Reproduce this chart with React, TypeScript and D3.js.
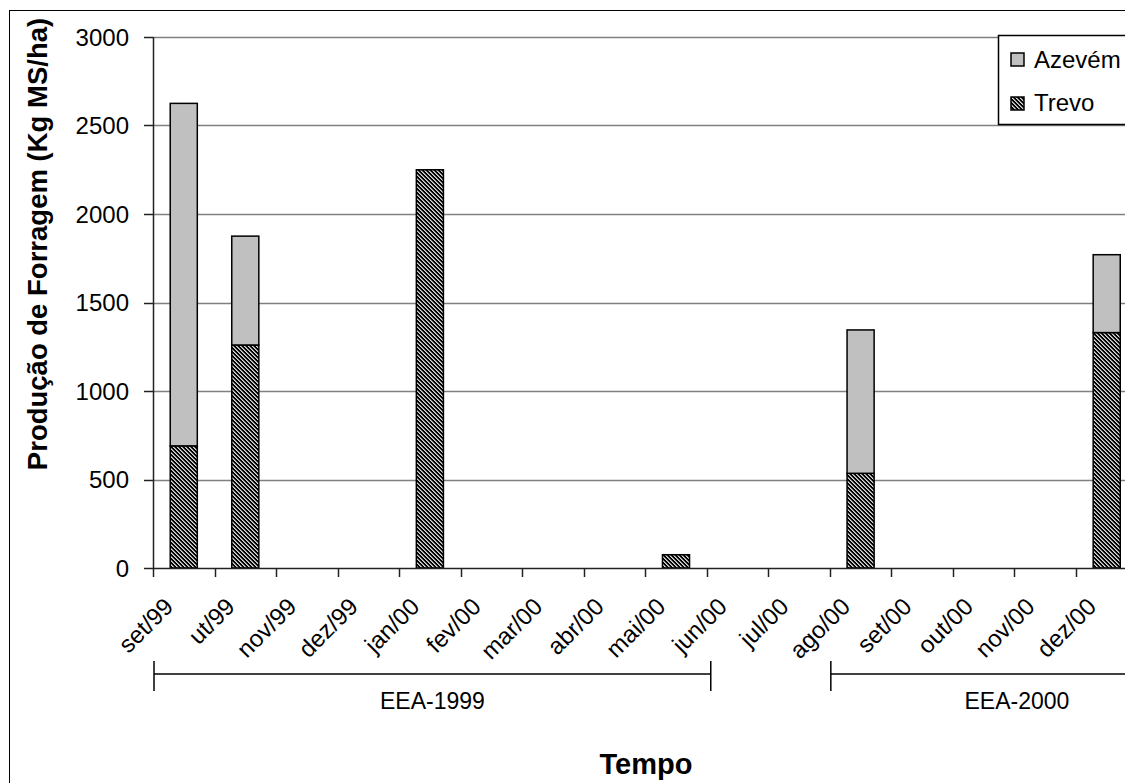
import React from "react";
import * as d3 from "d3";

const categories = ["set/99","ut/99","nov/99","dez/99","jan/00","fev/00","mar/00","abr/00","mai/00","jun/00","jul/00","ago/00","set/00","out/00","nov/00","dez/00"];
const trevo = [690, 1260, 0, 0, 2250, 0, 0, 0, 75, 0, 0, 535, 0, 0, 0, 1330];
const azevem = [1935, 615, 0, 0, 0, 0, 0, 0, 0, 0, 0, 810, 0, 0, 0, 440];
const yTicks = [0, 500, 1000, 1500, 2000, 2500, 3000];
const periods = [
  { label: "EEA-1999", from: 0, to: 9 },
  { label: "EEA-2000", from: 11, to: 17 },
];

const FONT = "'Liberation Sans', Arial, sans-serif";

export default function App() {
  const left = 153, right = 153 + 16 * 61.53, top = 37, bottom = 568;
  const x = d3.scaleBand<string>().domain(categories).range([left, right]).padding(0);
  const y = d3.scaleLinear().domain([0, 3000]).range([bottom, top]);
  const bw = x.bandwidth() * 0.44;
  const boundary = (i: number) => left + i * x.step();

  const stacked = categories.map((c, i) => ({ c, t: trevo[i], a: azevem[i] }));
  const patCells = d3.range(16).map(k => {
    const px = k % 4, py = Math.floor(k / 4);
    const m = (((px - py) % 4) + 4) % 4;
    return { px, py, fill: m < 2 ? "#000" : m === 2 ? "#d8d8d8" : "#8a8a8a" };
  });

  return (
    <div style={{ position: "fixed", left: 0, top: 0 }}>
      <svg width={1125} height={783} style={{ display: "block", background: "#fff" }} fontFamily={FONT}>
        <defs>
          <pattern id="trevoPat" width={4} height={4} patternUnits="userSpaceOnUse">
            {patCells.map((c, k) => (
              <rect key={k} x={c.px} y={c.py} width={1} height={1} fill={c.fill} shapeRendering="crispEdges" />
            ))}
          </pattern>
        </defs>
        <rect x={9.5} y={10.5} width={1200} height={900} fill="#fff" stroke="#000" strokeWidth={1} />

        {/* gridlines */}
        {yTicks.filter(v => v > 0).map(v => (
          <line key={v} x1={left} x2={right} y1={Math.round(y(v)) + 0.5} y2={Math.round(y(v)) + 0.5} stroke="#808080" strokeWidth={1.5} />
        ))}

        {/* bars */}
        {stacked.map(d => {
          const cx = (x(d.c) as number) + x.bandwidth() / 2;
          const els = [] as any[];
          if (d.t > 0) els.push(
            <rect key={d.c + "t"} x={cx - bw / 2} y={y(d.t)} width={bw} height={y(0) - y(d.t)} fill="url(#trevoPat)" stroke="#000" strokeWidth={1.5} />
          );
          if (d.a > 0) els.push(
            <rect key={d.c + "a"} x={cx - bw / 2} y={y(d.t + d.a)} width={bw} height={y(d.t) - y(d.t + d.a)} fill="#c0c0c0" stroke="#000" strokeWidth={1.5} />
          );
          return <g key={d.c}>{els}</g>;
        })}

        {/* axes */}
        <line x1={left + 0.5} x2={left + 0.5} y1={top} y2={bottom} stroke="#222" strokeWidth={1.5} />
        <line x1={left} x2={right} y1={bottom + 0.5} y2={bottom + 0.5} stroke="#222" strokeWidth={1.5} />
        {yTicks.map(v => (
          <g key={v}>
            <line x1={left - 9} x2={left} y1={Math.round(y(v)) + 0.5} y2={Math.round(y(v)) + 0.5} stroke="#222" strokeWidth={1.5} />
            <text x={129} y={y(v) + 8.5} textAnchor="end" fontSize={24} fill="#000">{v}</text>
          </g>
        ))}
        {d3.range(categories.length + 1).map(i => (
          <line key={i} x1={Math.round(boundary(i)) + 0.5} x2={Math.round(boundary(i)) + 0.5} y1={bottom} y2={bottom + 9} stroke="#222" strokeWidth={1.5} />
        ))}
        {categories.map(c => {
          const ax = (x(c) as number) + x.bandwidth() / 2 - 9;
          const ay = 608;
          return (
            <text key={c} x={ax} y={ay} textAnchor="end" fontSize={24} fill="#000" transform={`rotate(-45 ${ax} ${ay})`}>{c}</text>
          );
        })}

        {/* period brackets */}
        {periods.map(p => {
          const x1 = boundary(p.from) + 1;
          const x2 = boundary(p.to) + 4;
          return (
            <g key={p.label}>
              <line x1={x1} x2={x2} y1={674} y2={674} stroke="#000" strokeWidth={1.5} />
              <line x1={x1} x2={x1} y1={661} y2={691} stroke="#000" strokeWidth={1.5} />
              <line x1={x2} x2={x2} y1={661} y2={691} stroke="#000" strokeWidth={1.5} />
              <text x={(x1 + x2) / 2} y={709} textAnchor="middle" fontSize={23} fill="#000">{p.label}</text>
            </g>
          );
        })}

        {/* axis titles */}
        <text transform="translate(47,244) rotate(-90)" textAnchor="middle" fontSize={27.5} fontWeight="bold" fill="#000">Produção de Forragem (Kg MS/ha)</text>
        <text x={646} y={774} textAnchor="middle" fontSize={29} fontWeight="bold" fill="#000">Tempo</text>

        {/* legend */}
        <rect x={998.5} y={35.5} width={200} height={89} fill="#fff" stroke="#000" strokeWidth={1.5} />
        <rect x={1011} y={53} width={13} height={13} fill="#c0c0c0" stroke="#000" strokeWidth={1.5} />
        <text x={1034} y={68} fontSize={24} fill="#000">Azevém</text>
        <rect x={1011} y={97} width={13} height={13} fill="url(#trevoPat)" stroke="#000" strokeWidth={1.5} />
        <text x={1034} y={111} fontSize={24} fill="#000">Trevo</text>
      </svg>
    </div>
  );
}
